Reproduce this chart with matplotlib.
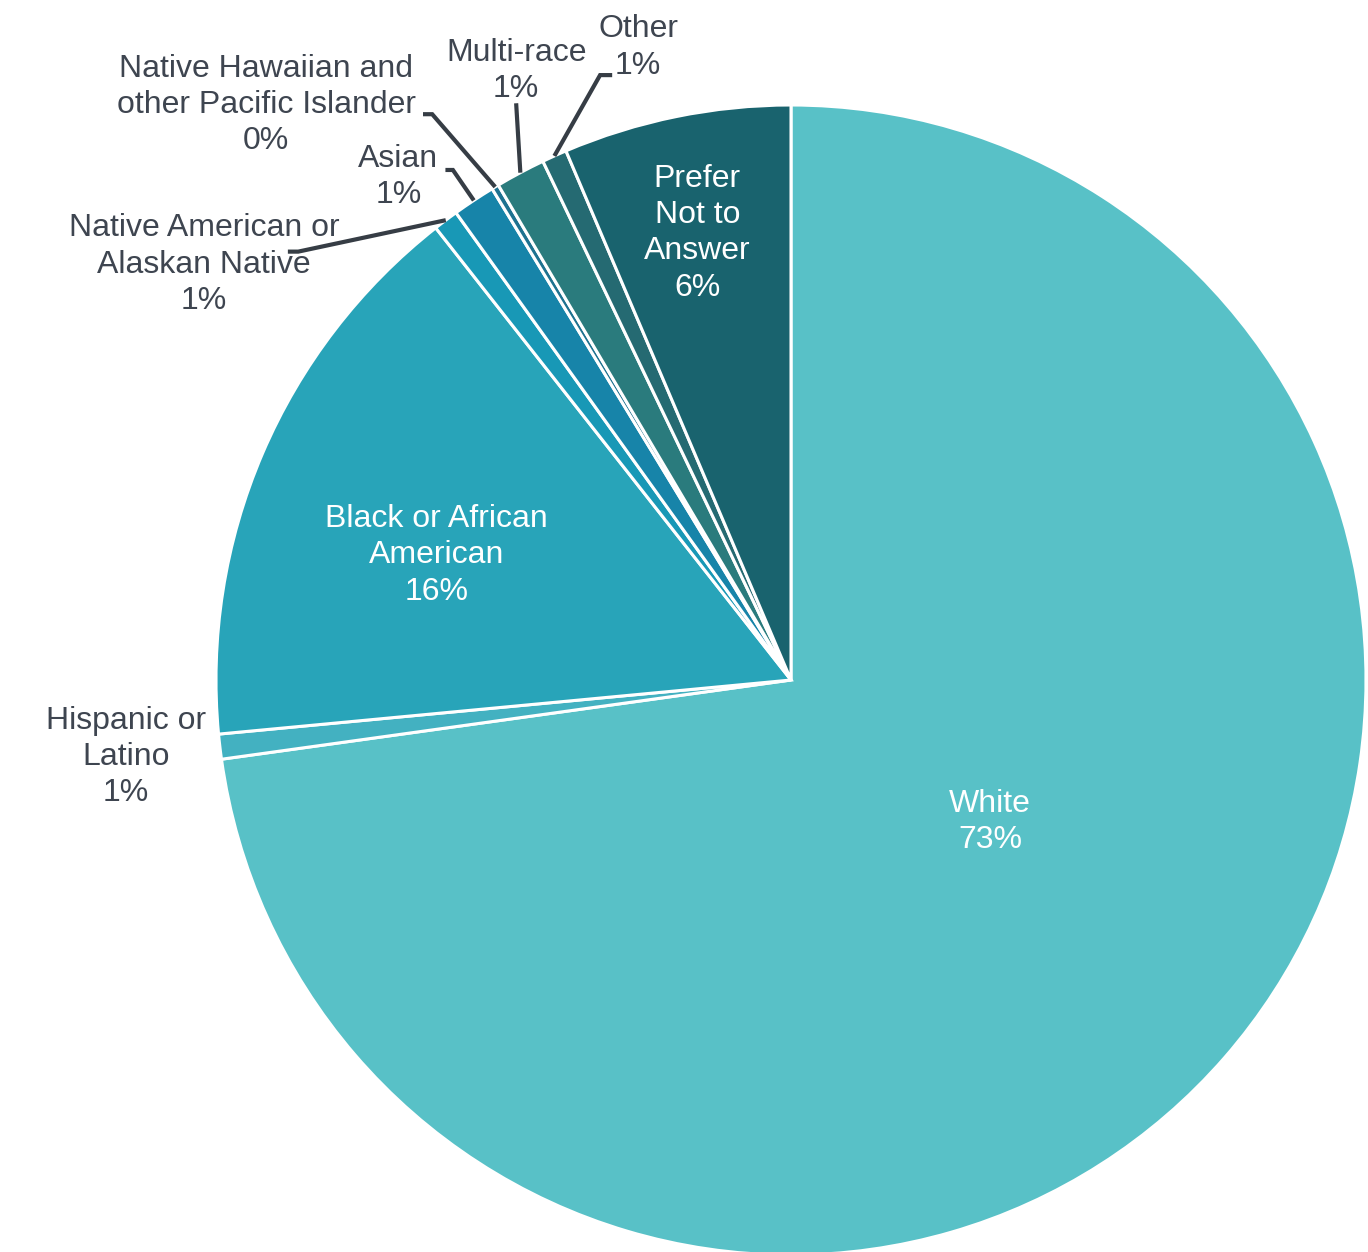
import numpy as np
import matplotlib
matplotlib.use("Agg")
import matplotlib.pyplot as plt

# data (shares in percent, clockwise from 12 o'clock)
categories = ["White", "Hispanic or\nLatino", "Black or African\nAmerican",
              "Native American or\nAlaskan Native", "Asian",
              "Native Hawaiian and\nother Pacific Islander", "Multi-race",
              "Other", "Prefer\nNot to\nAnswer"]
shares = [72.8, 0.7, 15.9, 0.7, 1.2, 0.2, 1.4, 0.7, 6.4]
pct_labels = ["73%", "1%", "16%", "1%", "1%", "0%", "1%", "1%", "6%"]

colors = ["#58C1C7", "#43B1C1", "#28A4B9", "#1898B6", "#1784A9",
          "#1E7290", "#2A7B7D", "#256A72", "#19636E"]
text_dark = "#3E4550"
line_dark = "#363D45"

# label placement: (x, y) in pie units, inside = white text on the wedge
label_pos = [(0.346, -0.247), (-1.157, -0.134), (-0.616, 0.217),
             (-1.021, 0.722), (-0.683, 0.875), (-0.913, 1.000),
             (-0.478, 1.059), (-0.266, 1.100), (-0.163, 0.777)]
inside = [True, False, True, False, False, False, False, False, True]
# leader lines: start point near the text and elbow point (pie units), None = no line
leader = [None, None, None,
          [(-0.875, 0.745), (-0.857, 0.745)],
          [(-0.601, 0.887), (-0.588, 0.887)],
          [(-0.640, 0.984), (-0.624, 0.984)],
          [(-0.478, 1.003), (-0.478, 1.003)],
          [(-0.311, 1.052), (-0.332, 1.052)],
          None]

plt.rcParams["font.family"] = ["Liberation Sans", "DejaVu Sans"]

fig = plt.figure(figsize=(13.68, 12.52), dpi=100)
ax = fig.add_axes([0, 0, 1, 1])
wedges, _ = ax.pie(shares, colors=colors, startangle=90, counterclock=False,
                   radius=1.0, wedgeprops=dict(edgecolor="white", linewidth=2.2))

for i, w in enumerate(wedges):
    x, y = label_pos[i]
    txt = categories[i] + "\n" + pct_labels[i]
    ax.text(x, y, txt, ha="center", va="center", multialignment="center",
            fontsize=23, linespacing=1.28,
            color="white" if inside[i] else text_dark)
    if leader[i] is not None:
        mid = np.deg2rad((w.theta1 + w.theta2) / 2)
        end = (np.cos(mid), np.sin(mid))
        pts = leader[i] + [end]
        ax.plot([p[0] for p in pts], [p[1] for p in pts], color=line_dark,
                linewidth=3, solid_capstyle="butt", solid_joinstyle="miter")

ax.set_xlim(-791 / 575, (1368 - 791) / 575)
ax.set_ylim(-(1252 - 680) / 575, 680 / 575)
ax.set_aspect("equal")
ax.axis("off")

fig.savefig("out.png", dpi=100)
